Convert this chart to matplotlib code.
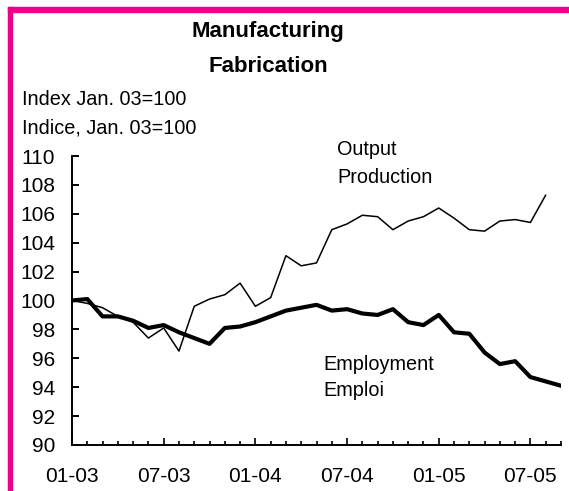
import numpy as np
import matplotlib
matplotlib.use('Agg')
import matplotlib.pyplot as plt
from matplotlib.patches import Rectangle

plt.rcParams['font.family'] = ['Liberation Sans', 'DejaVu Sans']

# Monthly index, Jan. 03 = 100
tick_labels = ["01-03", "07-03", "01-04", "07-04", "01-05", "07-05"]
tick_pos = [0, 6, 12, 18, 24, 30]
output = [100.0, 99.8, 99.5, 98.9, 98.5, 97.4, 98.1, 96.5, 99.6, 100.1,
          100.4, 101.2, 99.6, 100.2, 103.1, 102.4, 102.6, 104.9, 105.3, 105.9,
          105.8, 104.9, 105.5, 105.8, 106.4, 105.7, 104.9, 104.8, 105.5, 105.6,
          105.4, 107.3]
employment = [100.0, 100.1, 98.9, 98.9, 98.6, 98.1, 98.3, 97.8, 97.4, 97.0,
              98.1, 98.2, 98.5, 98.9, 99.3, 99.5, 99.7, 99.3, 99.4, 99.1,
              99.0, 99.4, 98.5, 98.3, 99.0, 97.8, 97.7, 96.4, 95.6, 95.8,
              94.7, 94.4, 94.1]

W, H = 569, 491
fig = plt.figure(figsize=(W / 100, H / 100), dpi=100)


def fx(x):
    return x / W


def fy(y):
    return 1 - y / H


ax = fig.add_axes([fx(72), fy(445), fx(561) - fx(72), fy(156) - fy(445)])

ax.plot(range(len(output)), output, color='black', linewidth=1.1,
        solid_joinstyle='round', solid_capstyle='round')
ax.plot(range(len(employment)), employment, color='black', linewidth=3.0,
        solid_joinstyle='round', solid_capstyle='round')

ax.set_xlim(0, 32)
ax.set_ylim(90, 110)
ax.set_yticks(np.arange(90, 111, 2))
ax.set_xticks(tick_pos)
ax.set_xticklabels(tick_labels)
ax.set_xticks(range(0, 33), minor=True)
for s in ['top', 'right']:
    ax.spines[s].set_visible(False)
for s in ['left', 'bottom']:
    ax.spines[s].set_linewidth(1.4)
ax.tick_params(axis='y', direction='in', length=5, width=1.4, pad=12, labelsize=15)
ax.tick_params(axis='x', which='major', direction='in', length=5, width=1.2,
               pad=16, labelsize=15)
ax.tick_params(axis='x', which='minor', direction='in', length=3, width=1.2)

# titles and labels
fig.text(fx(268), fy(37), "Manufacturing", ha='center', va='baseline',
         fontsize=16, fontweight='bold')
fig.text(fx(268), fy(72), "Fabrication", ha='center', va='baseline',
         fontsize=16, fontweight='bold')
fig.text(fx(22), fy(105), "Index Jan. 03=100", ha='left', va='baseline', fontsize=14.3)
fig.text(fx(22), fy(133), "Indice, Jan. 03=100", ha='left', va='baseline', fontsize=14.3)
fig.text(fx(337), fy(155), "Output", ha='left', va='baseline', fontsize=14.3)
fig.text(fx(337), fy(183), "Production", ha='left', va='baseline', fontsize=14.3)
fig.text(fx(323), fy(370), "Employment", ha='left', va='baseline', fontsize=14.3)
fig.text(fx(323), fy(396), "Emploi", ha='left', va='baseline', fontsize=14.3)

# magenta frame
pink = '#EC008C'
fig.add_artist(Rectangle((fx(8), 0), fx(4.3), fy(7.3), color=pink,
                         transform=fig.transFigure))
fig.add_artist(Rectangle((fx(8), fy(12.3)), 1, fy(7.3) - fy(12.3), color=pink,
                         transform=fig.transFigure))

fig.savefig("out.png", dpi=100)
